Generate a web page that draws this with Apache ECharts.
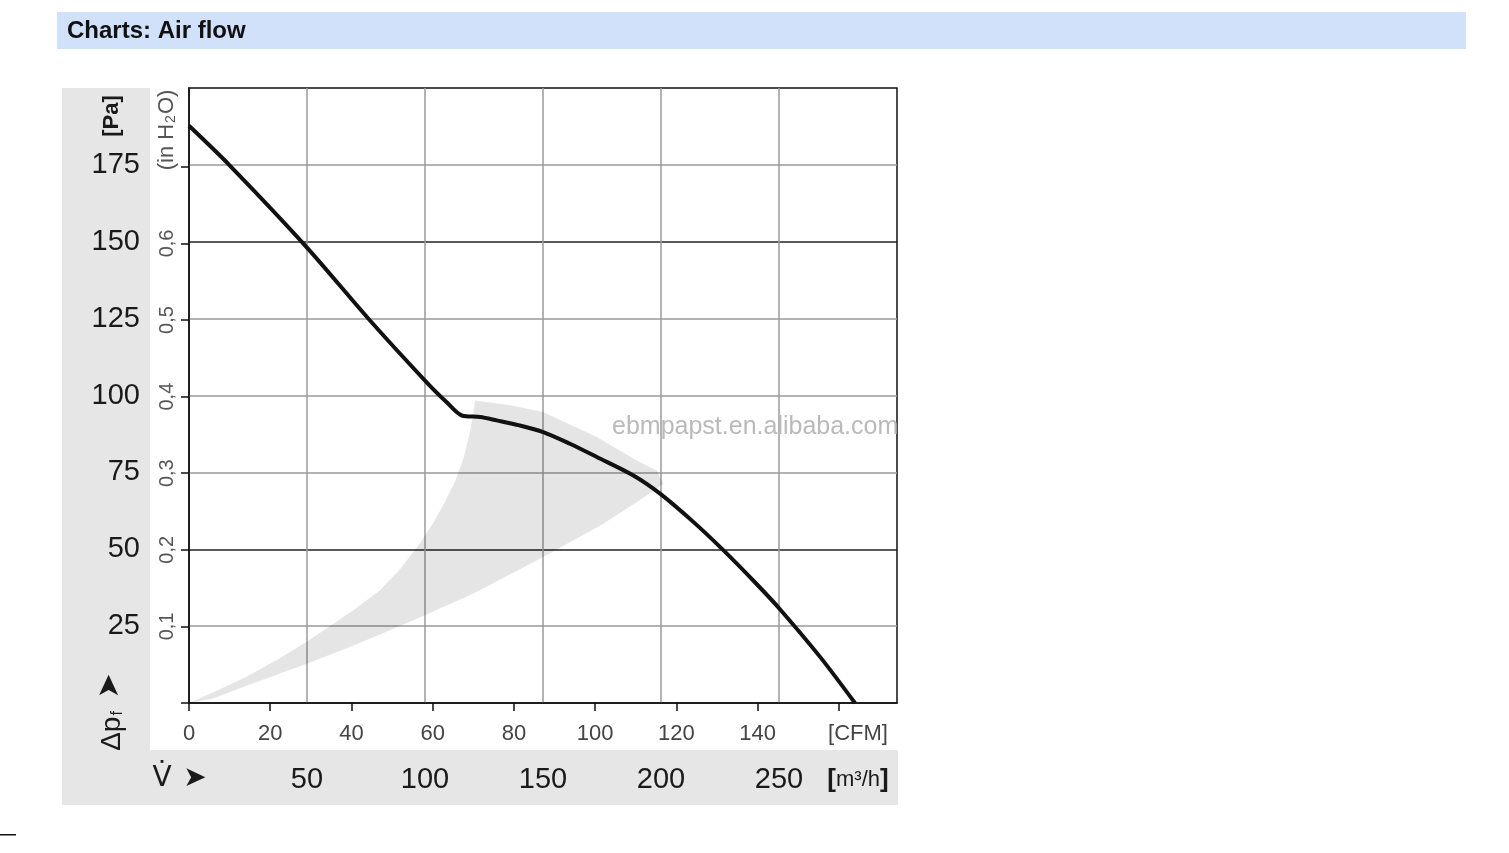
<!DOCTYPE html>
<html><head><meta charset="utf-8">
<script src="https://cdn.jsdelivr.net/npm/echarts@6/dist/echarts.min.js"></script>
<style>html,body{margin:0;padding:0;background:#fff}#c{width:1509px;height:853px}</style>
</head><body><div id="c"></div>
<script>
// Fan curve: air flow (m³/h) vs static pressure (Pa)
const flowM3h    = [0, 17.4, 49.9, 76.7, 100.7, 109.2, 115.6, 123.3, 130.4, 140.0, 150.1, 161.4, 172.8, 188.3, 199.6, 213.7, 226.4, 240.5, 250.4, 267.4, 282.2];
const pressurePa = [187.7, 174.7, 148.2, 124.4, 104.3, 97.8, 93.5, 93.0, 91.9, 90.3, 88.1, 84.3, 80.0, 74.0, 68.1, 58.9, 49.7, 38.7, 30.5, 15.0, 0];
// Shaded operating zone outline (m³/h, Pa)
const zoneFlow = [0, 10.3, 24.4, 38.6, 49.9, 69.6, 80.9, 89.4, 97.9, 103.5, 108.5, 113, 116.5, 119, 120.5, 121.2, 136, 150, 172.8, 189.7, 198.2, 201, 195.3, 175.6, 150.1, 121, 100, 80.9, 66.8, 49.9, 38.6, 24.4, 10.3];
const zonePa   = [0, 3.5, 8.5, 14.6, 19.9, 30.2, 36.7, 43.5, 52, 58.5, 65.5, 72.5, 80, 88, 94, 98.4, 96.8, 94.6, 86.5, 78.9, 75.6, 71.3, 68.1, 58.3, 47.5, 35.8, 28.5, 22.3, 17.8, 12.8, 9.6, 5.6, 1.5];
// Axis ticks
const m3hMax = 300, m3hStep = 50;
const paMax = 200, paStep = 25;
const cfmAxisMax = 174.3; // CFM scale as drawn in the figure
const cfmTicks = [0, 20, 40, 60, 80, 100, 120, 140, 160];
const cfmLabels = [0, 20, 40, 60, 80, 100, 120, 140];
const inH2OTicks = [0, 0.1, 0.2, 0.3, 0.4, 0.5, 0.6, 0.7];
const inH2OLabels = [0.1, 0.2, 0.3, 0.4, 0.5, 0.6];
const PA_PER_INH2O = 249.089;

const FONT = 'Liberation Sans';
const chart = echarts.init(document.getElementById('c'), null, {renderer: 'canvas'});
chart.setOption({
  animation: false,
  backgroundColor: '#fff',
  grid: {left: 189, top: 88, right: 612, bottom: 150, show: true, borderColor: '#111', borderWidth: 1.5, backgroundColor: 'transparent'},
  xAxis: [
    {type: 'value', min: 0, max: m3hMax, interval: m3hStep, position: 'bottom',
     axisLine: {show: true, onZero: false, lineStyle: {color: '#111', width: 1.5}},
     axisTick: {show: false},
     axisLabel: {margin: 62, fontSize: 29, fontFamily: FONT, color: '#1a1a1a',
       formatter: v => (v === 0 || v === m3hMax) ? '' : String(v)},
     splitLine: {show: true, showMinLine: false, showMaxLine: false, lineStyle: {color: '#9a9a9a', width: 1.5}}},
    {type: 'value', min: 0, max: cfmAxisMax, position: 'bottom',
     axisLine: {show: false, onZero: false},
     axisTick: {show: true, length: 8, customValues: cfmTicks, lineStyle: {color: '#111', width: 1.5}},
     axisLabel: {margin: 20, fontSize: 22, fontFamily: FONT, color: '#444', customValues: cfmLabels},
     splitLine: {show: false}}
  ],
  yAxis: [
    {type: 'value', min: 0, max: paMax, interval: paStep, position: 'left',
     axisLine: {show: true, onZero: false, lineStyle: {color: '#111', width: 1.5}},
     axisTick: {show: false},
     axisLabel: {margin: 49, fontSize: 29, fontFamily: FONT, color: '#1a1a1a',
       formatter: v => (v === 0 || v === paMax) ? '' : String(v)},
     splitLine: {show: true, showMinLine: false, showMaxLine: false,
       lineStyle: {color: ['#9a9a9a', '#222', '#9a9a9a', '#9a9a9a'], width: 1.5}}},
    {type: 'value', min: 0, max: paMax / PA_PER_INH2O, position: 'left',
     axisLine: {show: false, onZero: false},
     axisTick: {show: true, length: 8, customValues: inH2OTicks, lineStyle: {color: '#111', width: 1.5}},
     axisLabel: {margin: 12, rotate: 90, fontSize: 20, fontFamily: FONT, color: '#555', customValues: inH2OLabels,
       formatter: v => Number(v).toFixed(1).replace('.', ',')},
     splitLine: {show: false}}
  ],
  series: [
    {type: 'custom', xAxisIndex: 0, yAxisIndex: 0, data: [[0, 0]], encode: {x: 0, y: 1}, silent: true, clip: true,
     renderItem: (params, api) => ({
       type: 'polygon',
       shape: {points: zoneFlow.map((f, i) => api.coord([f, zonePa[i]]))},
       style: {fill: 'rgba(0,0,0,0.1)'}
     })},
    {type: 'line', xAxisIndex: 0, yAxisIndex: 0, showSymbol: false, smooth: 0.3,
     data: flowM3h.map((f, i) => [f, pressurePa[i]]),
     lineStyle: {color: '#111', width: 4}}
  ],
  graphic: [
    {type: 'rect', z: -10, shape: {x: 57, y: 12, width: 1409, height: 37}, style: {fill: '#d0e1f9'}},
    {type: 'text', x: 67, y: 31, style: {text: 'Charts: Air flow', font: 'bold 24px "Liberation Sans"', fill: '#111', verticalAlign: 'middle'}},
    {type: 'rect', z: -10, shape: {x: 62, y: 88, width: 88, height: 717}, style: {fill: '#e6e6e6'}},
    {type: 'rect', z: -10, shape: {x: 150, y: 750, width: 748, height: 55}, style: {fill: '#e6e6e6'}},
    {type: 'text', x: 112, y: 116, rotation: Math.PI / 2,
     style: {text: '[Pa]', font: 'bold 22px "Liberation Sans"', fill: '#1a1a1a', align: 'center', verticalAlign: 'middle'}},
    {type: 'text', x: 167, y: 130, rotation: Math.PI / 2,
     style: {text: '(in H{s|2}O)', font: '22px "Liberation Sans"', fill: '#555', align: 'center', verticalAlign: 'middle',
       rich: {s: {fontSize: 14, fontFamily: FONT, fill: '#555', padding: [9, 1, 0, 1]}}}},
    {type: 'text', x: 110, y: 686, rotation: Math.PI / 2,
     style: {text: '➤', font: '30px "DejaVu Sans"', fill: '#1a1a1a', align: 'center', verticalAlign: 'middle'}},
    {type: 'text', x: 112, y: 731, rotation: Math.PI / 2,
     style: {text: 'Δp{b|f}', font: '28px "Liberation Sans"', fill: '#1a1a1a', align: 'center', verticalAlign: 'middle',
       rich: {b: {fontSize: 16, fontFamily: FONT, fill: '#1a1a1a', padding: [12, 0, 0, 1]}}}},
    {type: 'text', x: 162, y: 779,
     style: {text: 'V\u0307', font: '28px "DejaVu Sans"', fill: '#1a1a1a', align: 'center', verticalAlign: 'middle'}},
    {type: 'text', x: 195, y: 779,
     style: {text: '➤', font: '28px "DejaVu Sans"', fill: '#1a1a1a', align: 'center', verticalAlign: 'middle'}},
    {type: 'text', x: 858, y: 734,
     style: {text: '[CFM]', font: '22px "Liberation Sans"', fill: '#444', align: 'center', verticalAlign: 'middle'}},
    {type: 'text', x: 858, y: 780,
     style: {text: '{b|[}{n|m³/h}{b|]}', align: 'center', verticalAlign: 'middle',
       rich: {b: {fontSize: 26, fontWeight: 'bold', fontFamily: FONT, fill: '#1a1a1a'}, n: {fontSize: 22, fontFamily: FONT, fill: '#1a1a1a'}}}},
    {type: 'text', x: 612, y: 427, z: 100,
     style: {text: 'ebmpapst.en.alibaba.com', font: '25px "Liberation Sans"', fill: '#bababa', verticalAlign: 'middle'}},
    {type: 'rect', shape: {x: 0, y: 834, width: 16, height: 1.5}, style: {fill: '#111'}}
  ]
});
</script>
</body></html>
